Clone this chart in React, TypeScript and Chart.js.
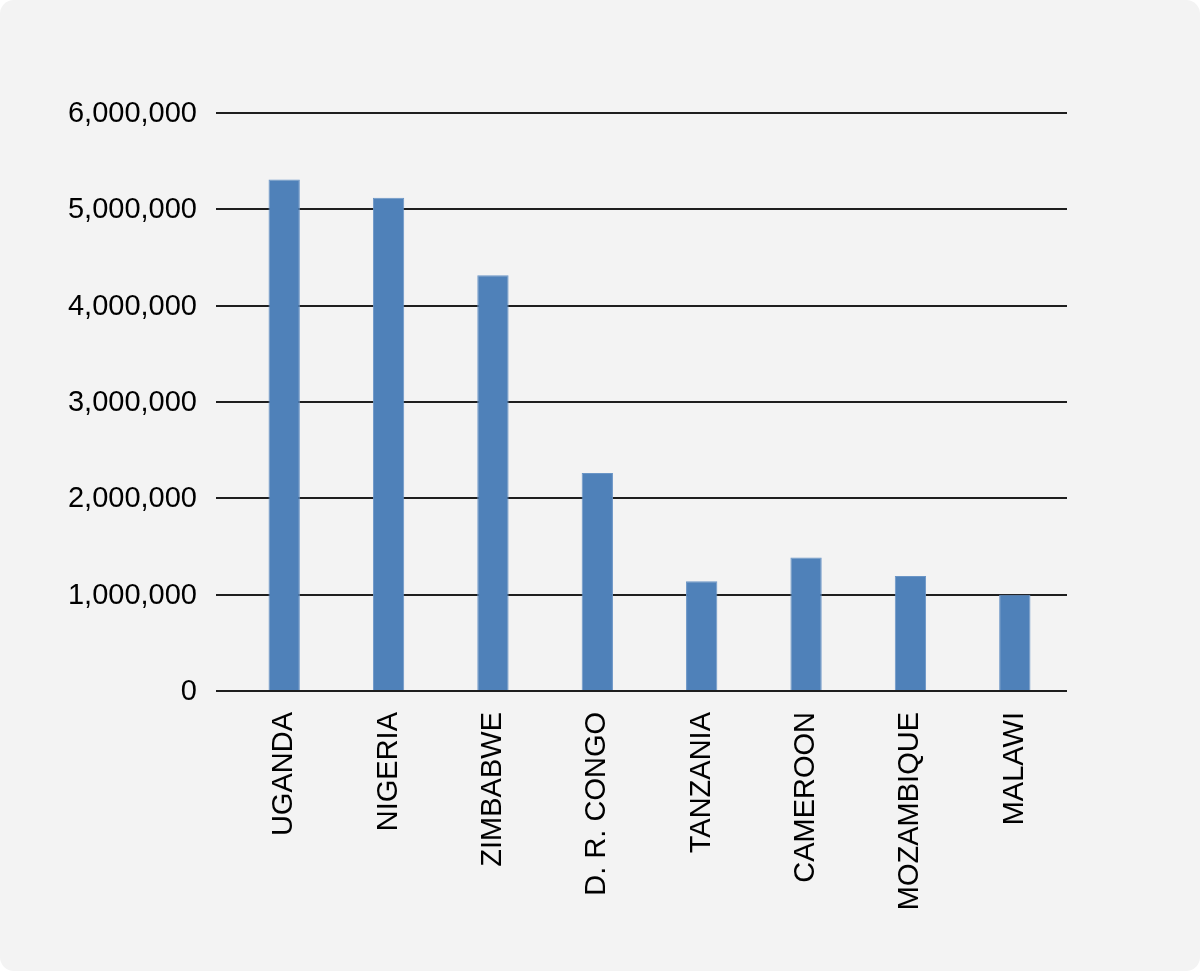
import React, { useEffect, useRef } from "react";
import { Chart, registerables } from "chart.js";

Chart.register(...registerables);

const categories: string[] = [
  "UGANDA",
  "NIGERIA",
  "ZIMBABWE",
  "D. R. CONGO",
  "TANZANIA",
  "CAMEROON",
  "MOZAMBIQUE",
  "MALAWI",
];

const values: number[] = [5310000, 5120000, 4315000, 2262000, 1138000, 1386000, 1195000, 998000];

const yTicks: number[] = [0, 1000000, 2000000, 3000000, 4000000, 5000000, 6000000];

export default function App() {
  const ref = useRef<HTMLCanvasElement | null>(null);

  useEffect(() => {
    if (!ref.current) return;
    const font = { family: "'Liberation Sans', Arial, Helvetica, sans-serif", size: 29 };
    const chart = new Chart(ref.current, {
      type: "bar",
      data: {
        labels: categories,
        datasets: [
          {
            data: values,
            backgroundColor: "#4f81b9",
            borderColor: "#6a95c6",
            borderWidth: 1,
            barPercentage: 0.3,
            categoryPercentage: 1,
          },
        ],
      },
      options: {
        animation: false,
        responsive: false,
        maintainAspectRatio: false,
        layout: { padding: { top: 113, right: 133, left: 0, bottom: 0 } },
        plugins: { legend: { display: false }, tooltip: { enabled: false } },
        scales: {
          x: {
            grid: { display: false },
            border: { display: false },
            ticks: {
              color: "#000",
              font,
              minRotation: 90,
              maxRotation: 90,
              padding: 13,
              autoSkip: false,
            },
            afterFit: (scale: any) => {
              scale.height = 280;
            },
          },
          y: {
            min: yTicks[0],
            max: yTicks[yTicks.length - 1],
            border: { display: false },
            grid: {
              color: "#1e1e1e",
              lineWidth: 2,
              drawTicks: true,
              tickLength: 16,
              tickColor: "#1e1e1e",
              tickWidth: 2,
            },
            afterBuildTicks: (scale: any) => {
              scale.ticks = yTicks.map((v) => ({ value: v }));
            },
            ticks: {
              color: "#000",
              font,
              padding: 19,
              labelOffset: 1,
              callback: (v: any) => Number(v).toLocaleString("en-US"),
            },
            afterFit: (scale: any) => {
              scale.width = 232;
            },
          },
        },
      },
    } as any);
    return () => chart.destroy();
  }, []);

  return (
    <div style={{ position: "fixed", left: 0, top: 0, width: 1200, height: 971, background: "#ffffff" }}>
      <div
        style={{
          position: "absolute",
          left: 0,
          top: 0,
          width: 1200,
          height: 971,
          background: "#f3f3f3",
          borderRadius: 14,
          overflow: "hidden",
        }}
      >
        <canvas ref={ref} width={1200} height={971} style={{ display: "block", width: 1200, height: 971 }} />
      </div>
    </div>
  );
}
